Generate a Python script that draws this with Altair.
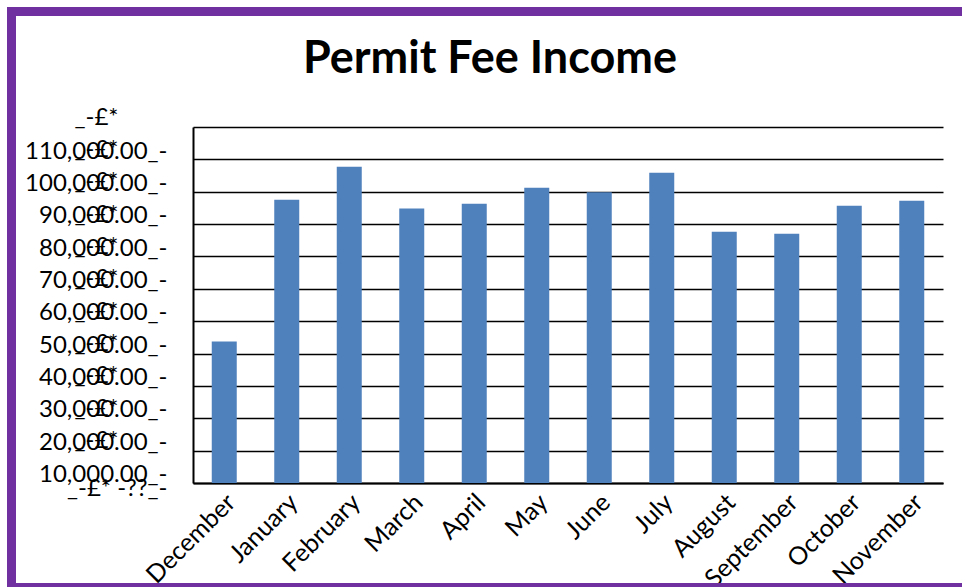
import altair as alt
import pandas as pd

months = ["December", "January", "February", "March", "April", "May",
          "June", "July", "August", "September", "October", "November"]
income = [43700, 87550, 97750, 84780, 86320, 91260,
          89800, 95900, 77670, 77050, 85700, 87250]
y_ticks = [0, 10000, 20000, 30000, 40000, 50000, 60000,
           70000, 80000, 90000, 100000, 110000]

df = pd.DataFrame({"month": months, "income": income})

FONT = "Lato"
PURPLE = "#7030A0"
BAR = "#4F81BD"

x_enc = alt.X(
    "month:N", sort=months,
    scale=alt.Scale(paddingInner=0.6, paddingOuter=0.3),
    axis=alt.Axis(
        title=None, labelAngle=-45, labelAlign="right", labelBaseline="middle",
        labelFont=FONT, labelFontSize=25, labelColor="black",
        labelPadding=15, labelOffset=7,
        ticks=False, domainColor="black", domainWidth=2, grid=False,
        labelOverlap=False,
    ),
)

y_scale = alt.Scale(domain=[0, 110000], nice=False)

bars = alt.Chart(df).mark_bar(color=BAR).encode(
    x=x_enc,
    y=alt.Y(
        "income:Q", scale=y_scale,
        axis=alt.Axis(
            orient="left", title=None, values=y_ticks,
            labelExpr="datum.value == 0 ? '_-£* -??_-' : format(datum.value, ',.2f') + '_-'",
            labelAlign="right", labelBaseline="alphabetic",
            labelOffset={"condition": {"test": "datum.value == 0", "value": 12}, "value": 31},
            labelPadding=26, ticks=False, tickSize=0,
            labelFont=FONT, labelFontSize=24, labelColor="black",
            labelOverlap=False, labelFlush=False, labelBound=False,
            grid=True, gridColor="black", gridWidth=1.6,
            domain=True, domainColor="black", domainWidth=2,
        ),
    ),
)

currency = alt.Chart(df).mark_point(opacity=0).encode(
    y=alt.Y(
        "income:Q", scale=y_scale,
        axis=alt.Axis(
            orient="left", title=None, values=y_ticks,
            labelExpr="datum.value == 0 ? '' : '_-£*'",
            labelAlign="center", labelBaseline="alphabetic", labelOffset=-3,
            labelPadding=97, ticks=False, tickSize=0,
            labelFont=FONT, labelFontSize=24, labelColor="black",
            labelOverlap=False, labelFlush=False, labelBound=False,
            grid=False, domain=False,
        ),
    ),
)

one = alt.Data(values=[{"k": 1}])
border_left = alt.Chart(one).mark_rect(color=PURPLE).encode(
    x=alt.value(-186), x2=alt.value(-177), y=alt.value(-120), y2=alt.value(460))
border_top = alt.Chart(one).mark_rect(color=PURPLE).encode(
    x=alt.value(-186), x2=alt.value(769), y=alt.value(-120), y2=alt.value(-111))
border_bottom = alt.Chart(one).mark_rect(color=PURPLE).encode(
    x=alt.value(-186), x2=alt.value(769), y=alt.value(456), y2=alt.value(460))

chart = alt.layer(bars, currency, border_left, border_top, border_bottom).resolve_scale(
    y="shared"
).resolve_axis(y="independent").properties(
    width=750, height=356,
    autosize=alt.AutoSizeParams(type="none"),
    padding={"left": 193, "top": 127, "right": 19, "bottom": 104},
    background="white",
    title=alt.TitleParams(
        "Permit Fee Income", font=FONT, fontSize=45, fontWeight="bold",
        color="black", anchor="middle", frame="group", dx=-78,
        baseline="alphabetic", offset=-111,
    ),
).configure_view(stroke=None)

chart.save("out.html", embed_options={"renderer": "svg", "actions": False})
